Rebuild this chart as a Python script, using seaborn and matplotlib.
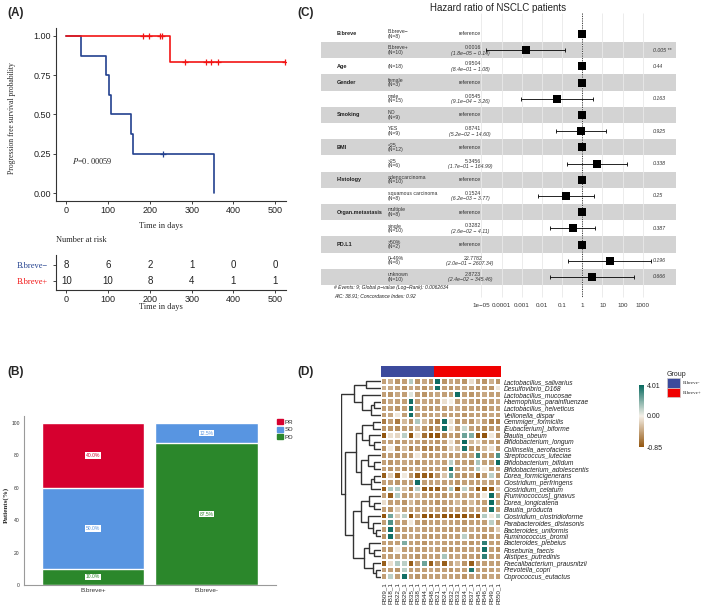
import numpy as np
import pandas as pd
import seaborn as sns
import matplotlib.pyplot as plt
from matplotlib.colors import LinearSegmentedColormap, TwoSlopeNorm, ListedColormap
from matplotlib.patches import Patch
from matplotlib.transforms import blended_transform_factory
from matplotlib.ticker import NullLocator

sns.set_style("ticks")
plt.rcParams['font.family'] = ['Liberation Sans', 'DejaVu Sans']
plt.rcParams['mathtext.fontset'] = 'stix'

# ---------------- data ----------------
# (A) Kaplan-Meier, progression free survival (days, 1 = progression)
neg_time = [36, 94, 103, 106, 154, 159, 232, 354]
neg_event = [1, 1, 1, 1, 1, 1, 0, 1]
pos_time = [183, 197, 223, 229, 247, 283, 334, 347, 362, 523]
pos_event = [0, 0, 0, 0, 1, 0, 0, 0, 0, 0]
risk_times = [0, 100, 200, 300, 400, 500]
p_text = '=0. 00059'

# (B) response by group
groups_b = ['B.breve+', 'B.breve-']
pd_pct = [10.0, 87.5]
sd_pct = [50.0, 12.5]
pr_pct = [40.0, 0.0]

# (C) forest plot
fp_vars = ['B.breve', '', 'Age', 'Gender', '', 'Smoking', '', 'BMI', '',
           'Histology', '', 'Organ.metastasis', '', 'PD.L1', '', '']
fp_levels = ['B.breve−\n(N=8)', 'B.breve+\n(N=10)', '(N=18)', 'female\n(N=3)',
             'male\n(N=15)', 'NO\n(N=9)', 'YES\n(N=9)', '<25\n(N=12)', '>25\n(N=6)',
             'adenocarcinoma\n(N=10)', 'squamous carcinoma\n(N=8)', 'multiple\n(N=8)',
             'single\n(N=10)', '>50%\n(N=2)', '0−49%\n(N=6)', 'unknown\n(N=10)']
fp_hr = [1, 0.0016, 0.9504, 1, 0.0545, 1, 0.8741, 1, 5.3456, 1, 0.1524, 1, 0.3282,
         1, 22.7782, 2.8723]
fp_lo = [np.nan, 1.8e-05, 0.84, np.nan, 9.1e-04, np.nan, 5.2e-02, np.nan, 1.7e-01,
         np.nan, 6.2e-03, np.nan, 2.6e-02, np.nan, 2.0e-01, 2.4e-02]
fp_hi = [np.nan, 0.14, 1.08, np.nan, 3.26, np.nan, 14.60, np.nan, 164.99, np.nan,
         3.77, np.nan, 4.11, np.nan, 2607.34, 345.46]
fp_p = ['', '0.005 **', '0.44', '', '0.163', '', '0.925', '', '0.338', '', '0.25',
        '', '0.387', '', '0.196', '0.666']
fp_ticks = [1e-05, 1e-04, 1e-03, 1e-02, 1e-01, 1, 10, 100, 1000]
fp_ticklabels = ['1e−05', '0.0001', '0.001', '0.01', '0.1', '1', '10', '100', '1000']
fp_footer = ['# Events: 9; Global p−value (Log−Rank): 0.0062634',
             'AIC: 38.91; Concordance Index: 0.92']

# (D) heatmap
sample_ids = ['FB09_1', 'FB18_1', 'FB22_1', 'FB29_1', 'FB35_1', 'FB38_1', 'FB44_1',
              'FB48_1', 'FB21_1', 'FB24_1', 'FB32_1', 'FB33_1', 'FB34_1', 'FB37_1',
              'FB45_1', 'FB46_1', 'FB49_1', 'FB50_1']
sample_group = ['B.breve-'] * 8 + ['B.breve+'] * 10
taxa = ['Lactobacillus_salivarius', 'Desulfovibrio_D168', 'Lactobacillus_mucosae',
        'Haemophilus_parainfluenzae', 'Lactobacillus_helveticus', 'Veillonella_dispar',
        'Gemmiger_formicilis', '[Eubacterium]_biforme', 'Blautia_obeum',
        'Bifidobacterium_longum', 'Collinsella_aerofaciens', 'Streptococcus_luteciae',
        'Bifidobacterium_bifidum', 'Bifidobacterium_adolescentis', 'Dorea_formicigenerans',
        'Clostridium_perfringens', 'Clostridium_celatum', '[Ruminococcus]_gnavus',
        'Dorea_longicatena', 'Blautia_producta', 'Clostridium_clostridioforme',
        'Parabacteroides_distasonis', 'Bacteroides_uniformis', 'Ruminococcus_bromii',
        'Bacteroides_plebeius', 'Roseburia_faecis', 'Alistipes_putredinis',
        'Faecalibacterium_prausnitzii', 'Prevotella_copri', 'Coprococcus_eutactus']
hm_values = [
    [-0.45, -0.35, -0.5, -0.45, 1.1, -0.5, -0.4, -0.5, 3.9, -0.5, -0.4, -0.45, -0.5, -0.1, -0.45, -0.5, -0.35, -0.5],
    [-0.35, -0.4, -0.45, -0.5, -0.4, -0.45, -0.5, -0.45, 3.8, -0.45, -0.5, -0.45, -0.4, -0.45, -0.5, -0.45, -0.5, -0.05],
    [-0.45, -0.5, -0.4, -0.45, 0.4, -0.45, -0.5, -0.45, -0.4, -0.45, -0.45, 3.8, -0.45, -0.5, -0.45, -0.4, -0.45, -0.45],
    [-0.5, -0.4, -0.45, -0.45, 3.8, -0.45, -0.4, -0.45, -0.45, -0.1, 0.05, -0.45, -0.4, -0.45, -0.5, -0.45, -0.45, -0.4],
    [-0.45, -0.45, -0.5, -0.45, 3.8, -0.4, -0.45, -0.5, -0.45, -0.45, -0.4, -0.4, -0.45, -0.45, -0.45, -0.5, -0.45, -0.45],
    [-0.45, -0.4, -0.05, -0.45, 3.8, -0.45, -0.45, -0.45, -0.4, -0.45, -0.45, -0.45, -0.5, -0.45, -0.45, -0.45, -0.4, -0.45],
    [-0.65, -0.45, -0.65, -0.3, -0.5, 1.2, -0.3, -0.5, -0.65, 3.8, -0.1, -0.5, -0.45, -0.5, -0.3, -0.45, -0.6, -0.6],
    [-0.5, -0.5, -0.55, -0.45, -0.5, -0.3, -0.5, -0.65, -0.5, 3.8, -0.1, -0.45, 0.8, -0.45, -0.5, -0.55, -0.5, -0.5],
    [-0.85, -0.1, -0.15, 1.0, -0.85, -0.1, -0.7, -0.85, -0.85, -0.6, -0.45, -0.5, 2.3, 2.0, -0.85, -0.85, -0.05, -0.5],
    [-0.45, -0.45, -0.5, -0.45, -0.4, -0.45, -0.5, -0.45, -0.5, -0.45, -0.1, -0.45, 3.9, -0.3, -0.2, -0.45, -0.45, -0.5],
    [-0.5, -0.05, -0.55, -0.3, -0.6, -0.45, -0.6, -0.6, -0.5, -0.5, -0.2, -0.3, 3.7, -0.5, -0.5, -0.3, -0.1, -0.5],
    [-0.5, -0.45, -0.5, -0.45, -0.45, -0.05, -0.45, -0.5, -0.45, -0.4, -0.5, -0.45, -0.45, -0.45, 3.2, -0.45, -0.5, 2.8],
    [-0.45, -0.5, -0.45, -0.4, -0.45, -0.5, -0.45, -0.45, -0.4, -0.45, 1.0, -0.45, -0.45, -0.5, 1.3, -0.45, -0.45, 3.9],
    [-0.45, -0.5, -0.45, -0.5, -0.45, -0.4, -0.45, -0.5, -0.45, -0.45, 3.8, -0.45, -0.4, -0.45, 1.1, -0.05, -0.45, -0.45],
    [-0.8, -0.2, -0.8, -0.05, -0.5, -0.8, -0.8, -0.8, -0.5, -0.25, 2.4, -0.5, -0.5, -0.45, -0.8, -0.45, 1.0, -0.5],
    [-0.45, -0.45, -0.5, -0.45, -0.45, 3.8, -0.45, -0.45, -0.4, -0.45, -0.45, -0.5, -0.45, -0.45, -0.45, -0.4, -0.45, -0.45],
    [-0.8, 1.2, 1.1, -0.3, -0.6, 1.0, -0.8, -0.8, -0.8, -0.5, 1.3, -0.8, 1.0, -0.45, -0.8, -0.8, -0.8, -0.25],
    [-0.45, -0.8, 1.1, -0.45, -0.45, -0.3, -0.45, -0.5, -0.45, -0.5, -0.45, -0.45, -0.4, -0.45, -0.45, -0.05, 3.9, -0.45],
    [-0.1, -0.45, -0.45, -0.5, -0.3, -0.45, -0.45, -0.45, -0.5, -0.45, -0.45, -0.3, -0.45, -0.3, -0.45, -0.45, 3.9, -0.45],
    [-0.45, -0.5, -0.2, -0.45, -0.45, -0.45, -0.4, -0.45, -0.45, -0.5, -0.45, -0.45, -0.45, -0.45, -0.4, -0.45, 3.7, -0.45],
    [-0.85, 2.2, -0.2, 1.0, -0.85, -0.45, -0.85, -0.85, -0.7, -0.85, -0.85, -0.85, -0.85, -0.7, -0.85, 1.1, -0.05, 1.2],
    [-0.45, 2.8, -0.45, -0.45, -0.05, -0.45, -0.5, -0.45, -0.45, -0.4, -0.45, -0.45, -0.5, -0.45, -0.45, -0.45, 1.0, -0.45],
    [-0.45, 3.8, -0.5, -0.45, -0.45, -0.4, -0.45, -0.45, -0.45, -0.45, -0.5, -0.45, -0.45, -0.4, -0.45, -0.45, -0.45, -0.2],
    [-0.5, 3.8, -0.45, -0.45, -0.4, -0.45, -0.45, -0.5, -0.45, -0.45, -0.45, -0.45, 1.0, -0.45, -0.45, -0.5, -0.45, -0.45],
    [-0.45, -0.45, -0.45, 2.0, -0.45, -0.45, -0.5, -0.45, -0.4, -0.45, -0.45, -0.45, -0.45, -0.5, -0.45, 3.3, -0.45, -0.45],
    [-0.45, -0.5, -0.05, -0.45, -0.45, -0.45, -0.45, -0.4, -0.45, -0.45, -0.5, -0.45, -0.45, -0.45, -0.45, 3.8, -0.45, -0.5],
    [-0.45, -0.45, -0.45, -0.4, -0.45, -0.5, -0.45, -0.45, -0.45, 1.3, -0.45, -0.4, -0.45, -0.45, -0.5, 3.3, -0.45, -0.45],
    [-0.8, -0.1, 1.1, 1.0, -0.8, -0.45, 2.3, -0.8, -0.5, -0.8, -0.45, -0.3, -0.5, -0.8, -0.45, -0.45, -0.45, -0.45],
    [-0.45, -0.45, -0.5, 1.0, -0.45, -0.45, -0.45, -0.4, -0.45, -0.45, -0.5, -0.45, -0.45, 3.6, -0.45, -0.45, -0.45, -0.4],
    [-0.45, 1.0, -0.45, 3.8, -0.45, -0.5, -0.45, -0.45, -0.45, -0.4, -0.45, -0.45, -0.5, -0.45, -0.45, -0.45, -0.4, -0.45],
]
# row dendrogram: (left, right, merge height), leaves = row index
row_tree = (((0, 1, 0.38), (2, ((3, 4, 0.17), 5, 0.25), 0.46), 0.68),
            ((((6, 7, 0.2), (8, (9, 10, 0.17), 0.29), 0.46),
              ((11, (12, 13, 0.17), 0.33), ((14, 15, 0.17), 16, 0.25), 0.5), 0.62),
             (((17, (18, 19, 0.17), 0.29), (20, (21, (22, 23, 0.12), 0.2), 0.33), 0.5),
              ((24, (25, 26, 0.17), 0.29), (27, (28, 29, 0.12), 0.2), 0.42), 0.7), 0.9), 1.0)

# ---------------- figure ----------------
W, H = 709, 612
fig = plt.figure(figsize=(W / 100, H / 100), dpi=100)


def px_axes(x0, y0, x1, y1):
    return fig.add_axes([x0 / W, 1 - y1 / H, (x1 - x0) / W, (y1 - y0) / H])


def km_curve(times, events):
    t = np.array(times)
    e = np.array(events)
    xs, ys, s = [0], [1.0], 1.0
    for ut in np.unique(t[e == 1]):
        n = (t >= ut).sum()
        d = ((t == ut) & (e == 1)).sum()
        s *= 1 - d / n
        xs.append(ut)
        ys.append(s)
    if t.max() > xs[-1]:
        xs.append(t.max())
        ys.append(s)
    return np.array(xs), np.array(ys)


serif = ['Liberation Serif', 'DejaVu Serif']
blue, red = '#23418f', '#f21414'

for lab, x, y in [('(A)', 7, 13), ('(C)', 297, 13), ('(B)', 7, 372), ('(D)', 297, 372)]:
    fig.text(x / W, 1 - y / H, lab, fontsize=8.5, fontweight='bold', va='center')

# ---- (A) KM ----
axa = px_axes(56, 28, 286, 201)
for times, events, c in [(neg_time, neg_event, blue), (pos_time, pos_event, red)]:
    xs, ys = km_curve(times, events)
    sns.lineplot(x=xs, y=ys, drawstyle='steps-post', estimator=None, sort=False,
                 color=c, lw=1.2, ax=axa, legend=False)
    t = np.array(times)
    cens = t[np.array(events) == 0]
    cy = ys[np.searchsorted(xs, cens, side='right') - 1]
    axa.plot(cens, cy, '+', ms=4.5, mew=0.9, color=c)
axa.set_xlim(-25, 526)
axa.set_ylim(-0.05, 1.05)
axa.set_xticks(risk_times)
axa.set_yticks([0, 0.25, 0.5, 0.75, 1.0])
axa.set_yticklabels(['0.00', '0.25', '0.50', '0.75', '1.00'])
axa.tick_params(labelsize=6.5, length=2, width=0.6, pad=1.5, colors='#222222')
axa.set_xlabel('')
axa.set_ylabel('')
sns.despine(ax=axa)
for sp in ['left', 'bottom']:
    axa.spines[sp].set_linewidth(0.8)
    axa.spines[sp].set_color('#333333')
axa.text(13, 0.205, r'$P$' + p_text, family=serif, fontsize=6, va='center')
fig.text(161 / W, 1 - 226 / H, 'Time in days', family=serif, fontsize=6, ha='center', va='center')
fig.text(12 / W, 1 - 118 / H, 'Progression free survival probability', family=serif,
         fontsize=5.5, rotation=90, ha='center', va='center')

# risk table
axr = px_axes(56, 255, 286, 290)
for row, times, c in [(2, neg_time, blue), (1, pos_time, red)]:
    t = np.array(times)
    for q in risk_times:
        axr.text(q, row, str((t >= q).sum()), ha='center', va='center', fontsize=7, color='#222222')
axr.set_xlim(-25, 526)
axr.set_ylim(0.44, 2.62)
axr.set_xticks(risk_times)
axr.set_yticks([2, 1])
axr.set_yticklabels(['B.breve−', 'B.breve+'], family=serif, fontsize=6)
for tl, c in zip(axr.get_yticklabels(), [blue, red]):
    tl.set_color(c)
axr.tick_params(axis='x', labelsize=6.5, length=2, width=0.6, pad=1.5, colors='#222222')
axr.tick_params(axis='y', length=2, width=0.6, pad=4)
sns.despine(ax=axr)
for sp in ['left', 'bottom']:
    axr.spines[sp].set_linewidth(0.8)
    axr.spines[sp].set_color('#333333')
fig.text(56 / W, 1 - 240 / H, 'Number at risk', family=serif, fontsize=6, va='center')
fig.text(161 / W, 1 - 307 / H, 'Time in days', family=serif, fontsize=6, ha='center', va='center')

# ---- (C) forest plot ----
axc = px_axes(321, 13, 676, 300)
axc.set_xscale('log')
rows = np.arange(len(fp_levels))
y_top, y_bot, y_grid = -1.296, 16.42, 16.23
for i in rows:
    if i % 2 == 1:
        axc.axhspan(i - 0.5, i + 0.5, color='#d3d3d3', lw=0, zorder=0)
axc.vlines(fp_ticks, y_top, y_grid, color='#e9e9e9', lw=0.6, zorder=1)
axc.vlines(1, y_top, y_grid, color='#444444', lw=0.7, linestyles=(0, (1.2, 1.2)), zorder=2)
hr = np.array(fp_hr)
lo = np.array(fp_lo)
hi = np.array(fp_hi)
ok = ~np.isnan(lo)
axc.errorbar(hr[ok], rows[ok], xerr=[hr[ok] - lo[ok], hi[ok] - hr[ok]], fmt='none',
             ecolor='black', elinewidth=0.6, capsize=1.3, capthick=0.6, zorder=3)
sns.scatterplot(x=hr, y=rows, marker='s', s=27, color='black', edgecolor='black',
                linewidth=0, ax=axc, zorder=4, legend=False)
axc.set_xlim(10 ** -12.94, 10 ** 4.64)
axc.set_ylim(y_bot, y_top)
axc.set_xticks(fp_ticks)
axc.set_xticklabels(fp_ticklabels, fontsize=4.5, color='#333333')
axc.xaxis.set_minor_locator(NullLocator())
axc.tick_params(axis='x', length=0, pad=2)
axc.set_yticks([])
axc.set_xlabel('')
axc.set_ylabel('')
for sp in axc.spines.values():
    sp.set_visible(False)
tr = blended_transform_factory(fig.transFigure, axc.transData)
for i in rows:
    if fp_vars[i]:
        axc.text(337 / W, i, fp_vars[i], transform=tr, fontsize=4, fontweight='bold',
                 va='center', color='#222222')
    axc.text(388 / W, i, fp_levels[i], transform=tr, fontsize=3.7, va='center',
             linespacing=0.85, color='#333333')
    if ok[i]:
        axc.text(473 / W, i - 0.16, f'{fp_hr[i]:.4f}', transform=tr, fontsize=3.8,
                 ha='center', va='center', color='#333333')
        ci = f'({fp_lo[i]:.1e} − {fp_hi[i]:.2f})'.replace('-', '−')
        axc.text(470 / W, i + 0.18, ci, transform=tr, fontsize=3.8, ha='center',
                 va='center', style='italic', color='#333333')
    else:
        axc.text(470 / W, i, 'reference', transform=tr, fontsize=3.8, ha='center',
                 va='center', color='#333333')
    if fp_p[i]:
        axc.text(653 / W, i, fp_p[i], transform=tr, fontsize=3.8, va='center',
                 style='italic', color='#333333')
for k, line in enumerate(fp_footer):
    fig.text(334 / W, 1 - (288 + 8 * k) / H, line, fontsize=3.6, style='italic',
             va='center', color='#222222')
fig.text(498 / W, 1 - 8 / H, 'Hazard ratio of NSCLC patients', fontsize=7,
         ha='center', va='center', color='#222222')

# ---- (B) stacked bars ----
c_pr, c_sd, c_pd = '#d6002f', '#5895e1', '#2b872b'
axb = px_axes(24, 416, 276, 585)
pd_a = np.array(pd_pct)
sd_a = np.array(sd_pct)
pr_a = np.array(pr_pct)
for top, c in [(pd_a + sd_a + pr_a, c_pr), (pd_a + sd_a, c_sd), (pd_a, c_pd)]:
    sns.barplot(x=groups_b, y=top, color=c, width=0.9, saturation=1, ax=axb)
for j in range(len(groups_b)):
    base = 0
    for val, c in [(pd_a[j], c_pd), (sd_a[j], c_sd), (pr_a[j], c_pr)]:
        if val > 0:
            axb.text(j, base + val / 2, f'{val:.1f}%', ha='center', va='center',
                     fontsize=3.6, color=c,
                     bbox=dict(boxstyle='square,pad=0.15', fc='white', ec='none'))
        base += val
axb.set_xlim(-0.608, 1.612)
axb.set_ylim(0, 104.3)
axb.set_yticks([0, 20, 40, 60, 80, 100])
axb.tick_params(axis='y', labelsize=3.6, length=0, pad=3, colors='#333333')
axb.tick_params(axis='x', labelsize=4.6, length=0, pad=2, colors='#333333')
axb.set_xlabel('')
axb.set_ylabel('')
sns.despine(ax=axb)
for sp in ['left', 'bottom']:
    axb.spines[sp].set_color('#9a9a9a')
    axb.spines[sp].set_linewidth(0.8)
fig.text(6 / W, 1 - 505 / H, 'Patients(%)', family=serif, fontweight='bold', fontsize=5,
         rotation=90, ha='center', va='center')
fig.legend(handles=[Patch(color=c_pr), Patch(color=c_sd), Patch(color=c_pd)],
           labels=['PR', 'SD', 'PD'], loc='upper left',
           bbox_to_anchor=(277 / W, 1 - 419 / H), fontsize=4.5, frameon=False,
           handlelength=0.9, handleheight=0.9, handletextpad=0.3, labelspacing=0.3,
           borderaxespad=0, borderpad=0)

# ---- (D) heatmap ----
cmap = LinearSegmentedColormap.from_list('brteal', ['#93560f', '#f6f1e9', '#07695f'])
norm = TwoSlopeNorm(vmin=-0.85, vcenter=0, vmax=4.01)
hm = pd.DataFrame(hm_values, index=taxa, columns=sample_ids)
axd = px_axes(380.7, 378, 501.3, 580)
sns.heatmap(hm, cmap=cmap, norm=norm, linewidths=0.35, linecolor='white', cbar=False,
            xticklabels=True, yticklabels=True, ax=axd)
axd.yaxis.tick_right()
axd.tick_params(axis='y', length=0, pad=1.5, labelsize=4.8, labelrotation=0)
axd.tick_params(axis='x', length=0, pad=1.5, labelsize=4.5, labelrotation=90)
for tl in axd.get_yticklabels():
    tl.set_style('italic')
    tl.set_color('#222222')
axd.set_xlabel('')
axd.set_ylabel('')

group_levels = ['B.breve-', 'B.breve+']
group_cols = ['#3c4a9c', '#f00000']
axn = px_axes(380.7, 366, 501.3, 377)
sns.heatmap([[group_levels.index(g) for g in sample_group]], cmap=ListedColormap(group_cols),
            cbar=False, xticklabels=False, yticklabels=False, ax=axn)

axt = px_axes(341, 378, 380.7, 580)


def draw_tree(ax, node):
    if isinstance(node, int):
        return node + 0.5, 0.0
    left, right, h = node
    yl, hl = draw_tree(ax, left)
    yr, hr_ = draw_tree(ax, right)
    ax.plot([hl, h, h, hr_], [yl, yl, yr, yr], color='#333333', lw=1.0,
            solid_joinstyle='miter')
    return (yl + yr) / 2, h


draw_tree(axt, row_tree)
axt.set_xlim(1.0, 0)
axt.set_ylim(len(taxa), 0)
axt.axis('off')

cax = px_axes(639, 385, 644, 447)
cb = fig.colorbar(axd.collections[0], cax=cax)
cb.set_ticks([-0.85, 0, 4.01])
cb.set_ticklabels(['-0.85', '0.00', '4.01'])
cb.outline.set_visible(False)
cax.tick_params(length=0, labelsize=5, pad=2, colors='#222222')

fig.legend(handles=[Patch(fc=c, ec='#cccccc', lw=0.5) for c in group_cols],
           labels=group_levels, title='Group', loc='upper left',
           bbox_to_anchor=(667 / W, 1 - 371 / H), frameon=False,
           prop={'family': serif, 'size': 3.6}, title_fontsize=5,
           handlelength=2.6, handleheight=2.6, labelspacing=0, handletextpad=0.5,
           borderaxespad=0, borderpad=0, alignment='left')

fig.savefig('out.png', dpi=100)
